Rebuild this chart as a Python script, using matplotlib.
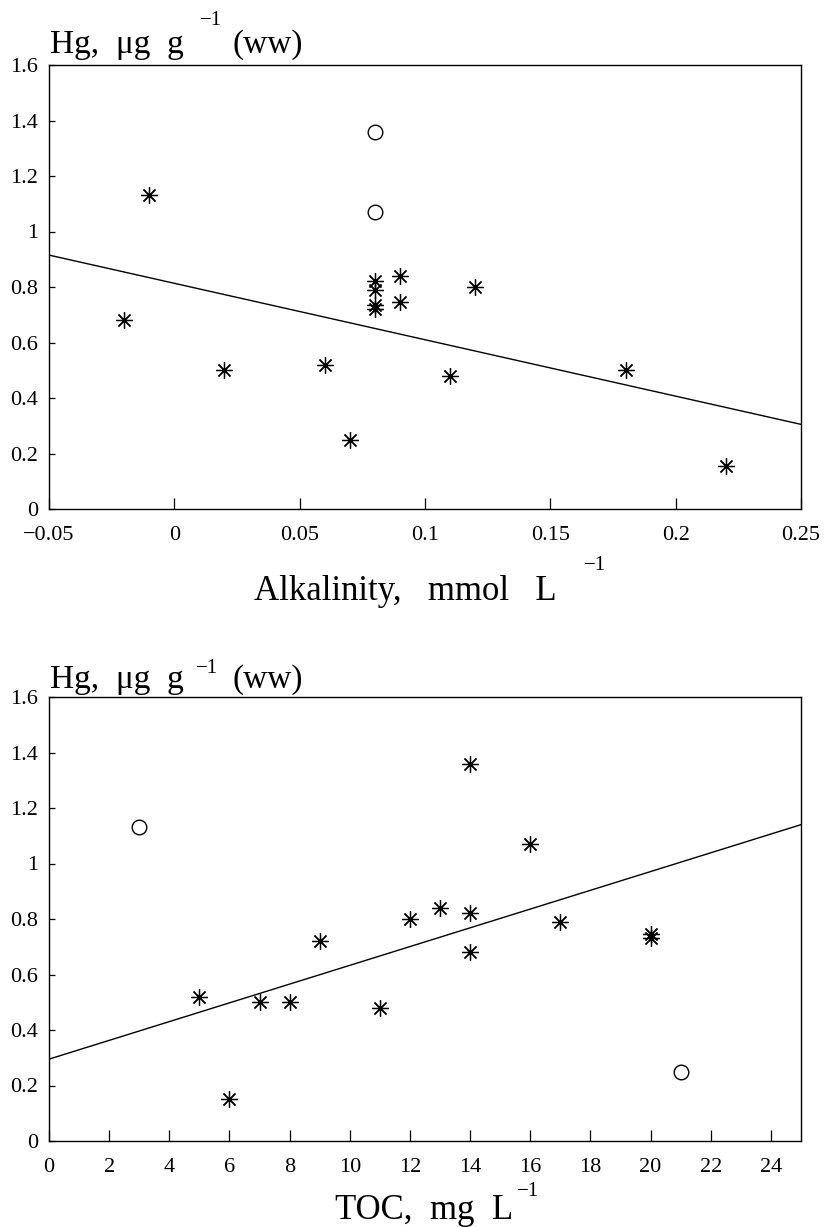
import matplotlib
matplotlib.use("Agg")
import matplotlib.pyplot as plt

# ---------------- data ----------------
# Panel A: Hg vs alkalinity
alk_star_x = [-0.02, -0.01, 0.02, 0.06, 0.07, 0.08, 0.08, 0.08, 0.08, 0.09, 0.09, 0.11, 0.12, 0.18, 0.22]
alk_star_y = [0.68, 1.13, 0.50, 0.52, 0.25, 0.82, 0.79, 0.735, 0.72, 0.84, 0.745, 0.48, 0.80, 0.50, 0.155]
alk_circ_x = [0.08, 0.08]
alk_circ_y = [1.36, 1.07]
alk_fit_x = [-0.05, 0.25]
alk_fit_y = [0.915, 0.305]
alk_ticks = [-0.05, 0, 0.05, 0.1, 0.15, 0.2, 0.25]
alk_ticklabels = ["\u22120.05", "0", "0.05", "0.1", "0.15", "0.2", "0.25"]

# Panel B: Hg vs TOC
toc_star_x = [5, 6, 7, 8, 9, 11, 12, 13, 14, 14, 14, 16, 17, 20, 20]
toc_star_y = [0.52, 0.15, 0.50, 0.50, 0.72, 0.48, 0.80, 0.84, 1.36, 0.82, 0.68, 1.07, 0.79, 0.745, 0.73]
toc_circ_x = [3, 21]
toc_circ_y = [1.13, 0.25]
toc_fit_x = [0, 25]
toc_fit_y = [0.295, 1.14]
toc_ticks = list(range(0, 25, 2))
toc_ticklabels = [str(t) for t in toc_ticks]

hg_ticks = [0, 0.2, 0.4, 0.6, 0.8, 1.0, 1.2, 1.4, 1.6]
hg_ticklabels = ["0", "0.2", "0.4", "0.6", "0.8", "1", "1.2", "1.4", "1.6"]

# ---------------- figure ----------------
W, H = 832, 1227
plt.rcParams['font.family'] = ['Liberation Serif', 'DejaVu Serif']
fig = plt.figure(figsize=(W / 100, H / 100), dpi=100)


def px_ax(left, top, right, bottom):
    return [left / W, 1 - bottom / H, (right - left) / W, (bottom - top) / H]


def ptext(x, y, s, **kw):
    fig.text(x / W, 1 - y / H, s, ha='left', va='baseline', **kw)


star = (8, 2, 0)


def style(ax, xlim, xticks, xlabels):
    ax.set_xlim(*xlim)
    ax.set_ylim(0, 1.6)
    ax.set_xticks(xticks)
    ax.set_xticklabels(xlabels, fontsize=16)
    ax.set_yticks(hg_ticks)
    ax.set_yticklabels(hg_ticklabels, fontsize=16)
    ax.tick_params(axis='x', direction='in', length=8, width=0.9, pad=12,
                   top=False, bottom=True)
    ax.tick_params(axis='y', direction='in', length=4, width=0.9, pad=8,
                   left=True, right=False)
    for sp in ax.spines.values():
        sp.set_linewidth(1.0)
        sp.set_color('black')


def draw(ax, sx, sy, cx, cy, fx, fy):
    ax.plot(fx, fy, color='black', lw=1.0)
    ax.plot(sx, sy, linestyle='none', marker=star, markersize=12,
            markeredgewidth=0.9, color='black')
    ax.plot(cx, cy, linestyle='none', marker='o', markersize=10.5,
            markerfacecolor='white', markeredgecolor='black', markeredgewidth=1.0)


# Top panel
ax1 = fig.add_axes(px_ax(49, 65, 801, 509))
draw(ax1, alk_star_x, alk_star_y, alk_circ_x, alk_circ_y, alk_fit_x, alk_fit_y)
style(ax1, (-0.05, 0.25), alk_ticks, alk_ticklabels)

# Bottom panel
ax2 = fig.add_axes(px_ax(49, 697, 801, 1141))
draw(ax2, toc_star_x, toc_star_y, toc_circ_x, toc_circ_y, toc_fit_x, toc_fit_y)
style(ax2, (0, 25), toc_ticks, toc_ticklabels)

# ---------------- texts ----------------
big = 24
sup = 15
# top y-label
ptext(50, 53, "Hg,  \u03bcg  g", fontsize=big)
ptext(200, 25, "\u22121", fontsize=sup)
ptext(233, 53, "(ww)", fontsize=big)
# top x-label
ptext(254, 600, "Alkalinity,   mmol   L", fontsize=25)
ptext(584, 570, "\u22121", fontsize=sup)

# bottom y-label
ptext(50, 688, "Hg,  \u03bcg  g", fontsize=big)
ptext(196, 673, "\u22121", fontsize=sup)
ptext(233, 688, "(ww)", fontsize=big)
# bottom x-label
ptext(335, 1219, "TOC,  mg  L", fontsize=25)
ptext(517, 1196, "\u22121", fontsize=sup)

fig.savefig("out.png", dpi=100)
